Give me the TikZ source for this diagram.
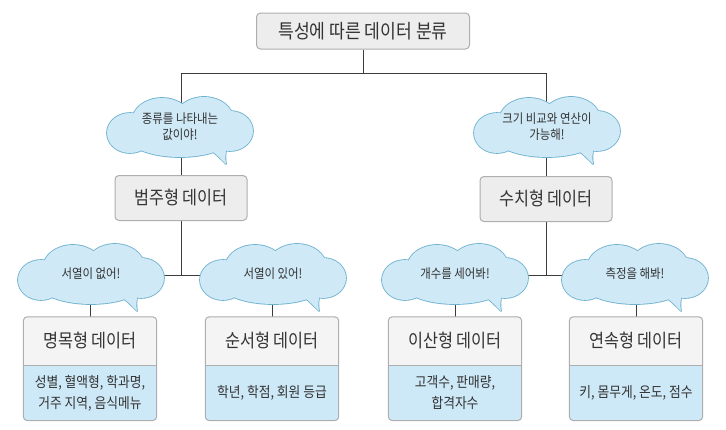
\documentclass[tikz,border=0pt]{standalone}
\usepackage{fontspec}
\setmainfont[FakeStretch=0.88]{Noto Sans CJK KR}
\usetikzlibrary{backgrounds}
\pgfdeclarelayer{cloudlayer}
\pgfsetlayers{background,cloudlayer,main}
\definecolor{boxfill}{HTML}{EDEDED}
\definecolor{titlefill}{HTML}{F4F4F4}
\definecolor{boxline}{HTML}{AEAEAE}
\definecolor{bluefill}{HTML}{CDE8F6}
\definecolor{cloudfill}{HTML}{CFE9F6}
\definecolor{cloudline}{HTML}{6EB2CF}
\definecolor{txt}{HTML}{333333}
\definecolor{conn}{HTML}{3C3C3C}
\newcommand\cloudlobes{%
  (-50,6) ellipse (23 and 20)
  (-18,-6) ellipse (30 and 23)
  (24,-8) ellipse (29 and 22)
  (50,4) ellipse (23 and 20)
  (0,10) ellipse (52 and 20)}
\newcommand\cloudtail{%
  (30,22) .. controls (39,30) .. (46,37) .. controls (45,30) .. (47,18) -- cycle}
\newcommand\cloudshape[1]{%
  \begin{pgfonlayer}{cloudlayer}
  \begin{scope}[shift={(#1.center)}]
    \path[draw=cloudline, line width=1.7pt, line join=round] \cloudlobes;
    \path[draw=cloudline, line width=1.7pt, line join=round] \cloudtail;
    \path[fill=cloudfill] \cloudlobes;
    \path[fill=cloudfill] \cloudtail;
  \end{scope}
  \end{pgfonlayer}}
\newcommand\leafbg[2]{%
  \fill[bluefill, rounded corners=4pt] (#1.north west) rectangle (#2.south east);
  \fill[titlefill, rounded corners=4pt] (#1.north west) rectangle (#1.south east);
  \fill[titlefill] (#1.west) rectangle (#1.south east);
  \draw[boxline, line width=1pt, rounded corners=4pt] (#1.north west) rectangle (#2.south east);
  \draw[boxline, line width=1pt] (#1.south west) -- (#1.south east);
}
\begin{document}
\begin{tikzpicture}[x=1pt,y=-1pt,
 mainbox/.style={draw=boxline, fill=boxfill, rounded corners=4pt, line width=1pt, minimum width=132pt, minimum height=45pt, font=\fontsize{18.5}{22}\selectfont, text=txt, inner sep=0},
 thought/.style={inner sep=0, align=center, font=\fontsize{13}{16}\selectfont, text=txt},
 leaftitle/.style={minimum width=133pt, minimum height=48pt, inner sep=0, font=\fontsize{18.5}{22}\selectfont, text=txt},
 leafdetail/.style={minimum width=133pt, minimum height=55pt, inner sep=0, align=center, font=\fontsize{14.5}{21}\selectfont, text=txt},
 link/.style={draw=conn, line width=0.9pt},
]
\useasboundingbox (0,0) rectangle (726,429);

\node[mainbox, minimum width=213pt, minimum height=36pt, font=\fontsize{19.5}{22}\selectfont] (root) at (363,31) {특성에 따른 데이터 분류};
\node[mainbox] (cat) at (181,198) {범주형 데이터};
\node[mainbox] (num) at (546,199) {수치형 데이터};

\node[thought] (ccat) at (180,127) {종류를 나타내는\\값이야!};
\cloudshape{ccat}
\node[thought] (cnum) at (547,127) {크기 비교와 연산이\\가능해!};
\cloudshape{cnum}

\node[leaftitle] (nom) at (90,341) {명목형 데이터};
\node[leafdetail, anchor=north] (nomd) at (nom.south) {성별, 혈액형, 학과명,\\거주 지역, 음식메뉴};
\node[leaftitle] (ord) at (272,341) {순서형 데이터};
\node[leafdetail, anchor=north] (ordd) at (ord.south) {학년, 학점, 회원 등급};
\node[leaftitle] (dis) at (455,341) {이산형 데이터};
\node[leafdetail, anchor=north] (disd) at (dis.south) {고객수, 판매량,\\합격자수};
\node[leaftitle] (con) at (636,341) {연속형 데이터};
\node[leafdetail, anchor=north] (cond) at (con.south) {키, 몸무게, 온도, 점수};

\node[thought] (cnom) at (91,274) {서열이 없어!};
\cloudshape{cnom}
\node[thought] (cord) at (273,274) {서열이 있어!};
\cloudshape{cord}
\node[thought] (cdis) at (455,274) {개수를 세어봐!};
\cloudshape{cdis}
\node[thought] (ccon) at (635,274) {측정을 해봐!};
\cloudshape{ccon}

\coordinate (j0) at (363,73);
\coordinate (j1) at (181,275);
\coordinate (j2) at (546,275);

\begin{scope}[on background layer]
\draw[link] (root.south) -- (j0);
\draw[link] (j0) -| (cat.north);
\draw[link] (j0) -| (num.north);
\draw[link] (cat.south) -- (j1);
\draw[link] (j1) -| (nom.north);
\draw[link] (j1) -| (ord.north);
\draw[link] (num.south) -- (j2);
\draw[link] (j2) -| (dis.north);
\draw[link] (j2) -| (con.north);
\leafbg{nom}{nomd}
\leafbg{ord}{ordd}
\leafbg{dis}{disd}
\leafbg{con}{cond}
\end{scope}
\end{tikzpicture}
\end{document}
